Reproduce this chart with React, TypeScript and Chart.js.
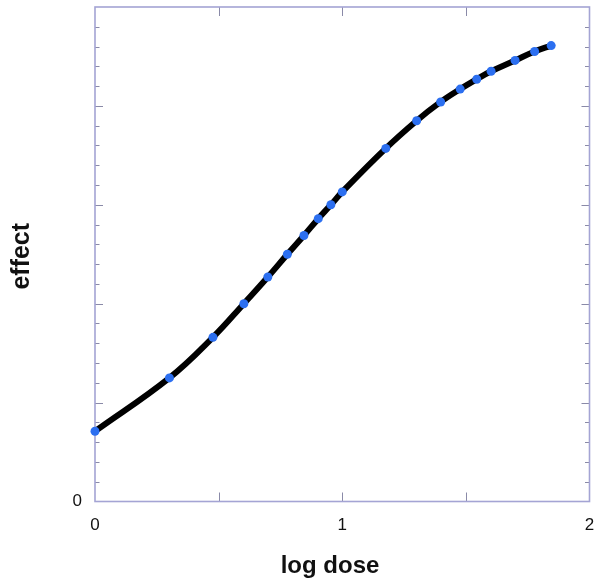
import React, { useEffect, useRef } from "react";
import { Chart, registerables } from "chart.js";

Chart.register(...registerables);

// log10 of dose
const logDose = [0, 0.301, 0.477, 0.602, 0.699, 0.778, 0.845, 0.903, 0.954, 1.0, 1.176, 1.301, 1.398, 1.477, 1.544, 1.602, 1.699, 1.778, 1.845];
const effectValues = [0.71, 1.25, 1.66, 2.0, 2.27, 2.5, 2.69, 2.86, 3.0, 3.13, 3.57, 3.85, 4.04, 4.17, 4.27, 4.35, 4.46, 4.55, 4.61];

const xLabels = ["0", "1", "2"];
const yLabels = ["0"];
const xTitle = "log dose";
const yTitle = "effect";

const FONT = '"Liberation Sans", Arial, Helvetica, sans-serif';
const FRAME = "#a4a4d4";
const TICK = "#8a8aa8";

const framePlugin = {
  id: "frameTicks",
  beforeDatasetsDraw(chart: any) {
    const { ctx, chartArea, scales } = chart;
    const { left, right, top, bottom } = chartArea;
    const xs = scales.x;
    const ys = scales.y;
    ctx.save();
    ctx.strokeStyle = TICK;
    ctx.lineWidth = 1;
    ctx.beginPath();
    for (let i = 1; i < 25; i++) {
      const v = i * 0.2;
      const major = i % 5 === 0;
      const len = major ? 8 : 4.5;
      const py = Math.round(ys.getPixelForValue(v)) + 0.5;
      ctx.moveTo(left, py);
      ctx.lineTo(left + len, py);
      ctx.moveTo(right, py);
      ctx.lineTo(right - len, py);
    }
    for (const v of [0.5, 1, 1.5]) {
      const px = Math.round(xs.getPixelForValue(v)) + 0.5;
      ctx.moveTo(px, bottom);
      ctx.lineTo(px, bottom - 9);
      ctx.moveTo(px, top);
      ctx.lineTo(px, top + 9);
    }
    ctx.stroke();
    ctx.strokeStyle = FRAME;
    ctx.lineWidth = 1.6;
    ctx.strokeRect(left, top, right - left, bottom - top);
    ctx.restore();
  },
  afterDraw(chart: any) {
    const { ctx, chartArea } = chart;
    ctx.save();
    ctx.fillStyle = "#111";
    ctx.textAlign = "center";
    ctx.textBaseline = "alphabetic";
    ctx.font = `bold 24px ${FONT}`;
    ctx.fillText(xTitle, 330, 573);
    ctx.font = `bold 25px ${FONT}`;
    ctx.translate(29, (chartArea.top + chartArea.bottom) / 2 + 2);
    ctx.rotate(-Math.PI / 2);
    ctx.fillText(yTitle, 0, 0);
    ctx.restore();
  },
};

const zeroPad = (s: any) => {
  s.paddingTop = 0;
  s.paddingBottom = 0;
  s.paddingLeft = 0;
  s.paddingRight = 0;
};

export default function App() {
  const ref = useRef<HTMLCanvasElement | null>(null);

  useEffect(() => {
    if (!ref.current) return;
    const data = logDose.map((x, i) => ({ x, y: effectValues[i] }));
    const chart = new Chart(ref.current, {
      type: "scatter",
      data: {
        datasets: [
          {
            data,
            showLine: true,
            clip: false,
            borderColor: "#000",
            borderWidth: 6,
            tension: 0.4,
            pointRadius: 4.5,
            pointBorderWidth: 0,
            pointBackgroundColor: "#2c6ff0",
            pointHoverRadius: 4.5,
          } as any,
        ],
      },
      options: {
        responsive: false,
        animation: false,
        devicePixelRatio: 1,
        layout: { padding: { top: 7, right: 12.5, left: 0, bottom: 0 } },
        plugins: { legend: { display: false }, tooltip: { enabled: false } },
        scales: {
          x: {
            type: "linear",
            min: 0,
            max: 2,
            grid: { display: false, drawTicks: false },
            border: { display: false },
            afterFit: (s: any) => {
              s.height = 84.5;
              zeroPad(s);
            },
            ticks: {
              stepSize: 0.5,
              padding: 14,
              maxRotation: 0,
              autoSkip: false,
              color: "#111",
              font: { family: FONT, size: 17 },
              callback: (v: any) => {
                const n = Number(v);
                return Number.isInteger(n) ? xLabels[n] ?? "" : "";
              },
            },
          },
          y: {
            type: "linear",
            min: 0,
            max: 5,
            grid: { display: false, drawTicks: false },
            border: { display: false },
            afterFit: (s: any) => {
              s.width = 95;
              zeroPad(s);
            },
            ticks: {
              stepSize: 1,
              padding: 13,
              autoSkip: false,
              color: "#111",
              font: { family: FONT, size: 17 },
              callback: (v: any) => (Number(v) === 0 ? yLabels[0] : ""),
            },
          },
        },
      },
      plugins: [framePlugin],
    });
    return () => chart.destroy();
  }, []);

  return (
    <div style={{ position: "absolute", left: 0, top: 0, width: 602, height: 586, background: "#fff" }}>
      <canvas ref={ref} width={602} height={586} style={{ display: "block" }} />
    </div>
  );
}
